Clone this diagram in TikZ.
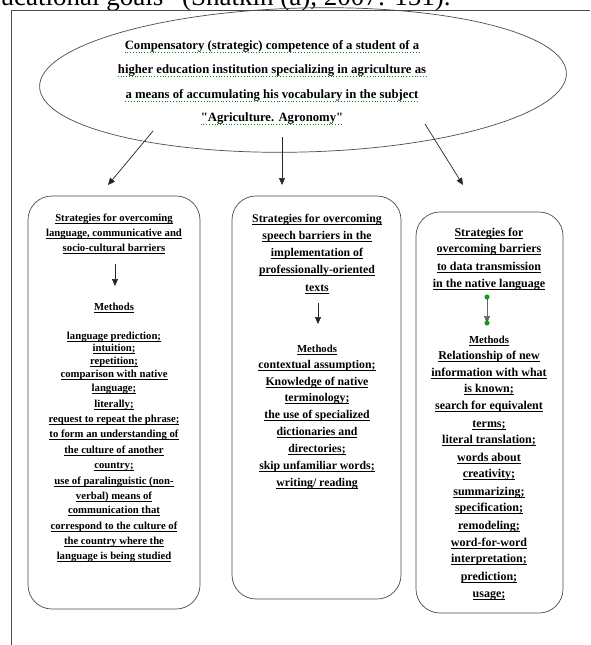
\documentclass[tikz,border=0pt]{standalone}
\usepackage{fontspec}
\setmainfont{Liberation Serif}
\usetikzlibrary{shapes.geometric,arrows.meta}
\newcommand\ulx[1]{\setbox0\hbox{#1}\rlap{\vrule height -1.7pt depth 2.4pt width \wd0}\box0}
\tikzset{
  frameline/.style={draw=black!70, line width=0.8pt},
  boxshape/.style={draw=black!70, line width=0.7pt, rounded corners=24pt, inner sep=0pt},
  ovalshape/.style={draw=black!70, line width=0.7pt, ellipse, inner sep=0pt},
  arr/.style={draw=black!85, line width=0.7pt, -{Triangle[length=7pt,width=6pt]}},
  etxt/.style={anchor=base, inner sep=0pt, font=\bfseries\fontsize{12.7}{14}\selectfont},
  ltxt/.style={anchor=base, inner sep=0pt, font=\bfseries\fontsize{10.7}{12}\selectfont},
  mtxt/.style={anchor=base, inner sep=0pt, font=\bfseries\fontsize{11.8}{13}\selectfont},
  rtxt/.style={anchor=base, inner sep=0pt, font=\bfseries\fontsize{12}{13}\selectfont},
  methtxt/.style={anchor=base, inner sep=0pt, font=\bfseries\fontsize{10.7}{12}\selectfont},
  greenwave/.style={draw=green!55!black, dotted, line width=0.8pt},
  handle/.style={fill=green!70!black, draw=green!30!black, line width=0.3pt},
}
\begin{document}
\begin{tikzpicture}[x=1pt,y=-1pt]
\useasboundingbox (0,0) rectangle (590,645);
\fill[white] (0,0) rectangle (590,645);

% cut-off text line at the top
\node[anchor=base west, inner sep=0pt, font=\fontsize{27}{30}\selectfont] (cap) at (-25,5.5) {educational goals” (Shatkin (a), 2007: 151).};

% frame
\draw[frameline] (11,645) -- (11,10.5) -- (590,10.5);

% oval
\node[ovalshape, minimum width=527pt, minimum height=144pt, rotate=1.5] (E) at (303,80) {};
\foreach \y/\t [count=\i] in {45/{Compensatory (strategic) competence of a student of a},
  69/{higher education institution specializing in agriculture as},
  94/{a means of accumulating his vocabulary in the subject},
  117/{\textquotedbl Agriculture. Agronomy\textquotedbl}}{
  \node[etxt] (e\i) at (272,\y+4) {\t};
  \draw[greenwave] ([yshift=-3pt]e\i.base west) -- ([yshift=-3pt]e\i.base east);
}

% arrows from oval
\coordinate (E1s) at (153,131); \coordinate (E1e) at (108,185);
\coordinate (E2s) at (282,137); \coordinate (E2e) at (282,185);
\coordinate (E3s) at (425,124); \coordinate (E3e) at (463,185);
\draw[arr] (E1s) -- (E1e);
\draw[arr] (E2s) -- (E2e);
\draw[arr] (E3s) -- (E3e);

% boxes
\node[boxshape, minimum width=172pt, minimum height=413pt] (L) at (114,402.5) {};
\node[boxshape, minimum width=169pt, minimum height=403pt] (M) at (316.5,397.5) {};
\node[boxshape, minimum width=147pt, minimum height=401pt] (R) at (489.5,412.5) {};

% left box
\foreach \y/\t [count=\i] in {218/{Strategies for overcoming},233/{language, communicative and},248/{socio-cultural barriers}}
  \node[ltxt] (Lh\i) at (114,\y+3.5) {\ulx{\t}};
\coordinate (La1) at (115,264); \coordinate (La2) at (115,286);
\draw[arr] (La1) -- (La2);
\node[methtxt] (Lm) at (114,307+3.5) {\ulx{Methods}};
\foreach \y/\t [count=\i] in {336/{language prediction;},348/{intuition;},361/{repetition;},
  374/{comparison with native},388/{language;},404/{literally;},419/{request to repeat the phrase;},
  434/{to form an understanding of},450/{the culture of another},465/{country;},
  481/{use of paralinguistic (non-},496/{verbal) means of},510/{communication that},
  526/{correspond to the culture of},541/{the country where the},556/{language is being studied}}
  \node[ltxt] (Ll\i) at (114,\y+3.5) {\ulx{\t}};

% middle box
\foreach \y/\t [count=\i] in {218/{Strategies for overcoming},235/{speech barriers in the},252/{implementation of},269/{professionally-oriented},287/{texts}}
  \node[mtxt] (Mh\i) at (317,\y+4) {\ulx{\t}};
\coordinate (Ma1) at (318,303); \coordinate (Ma2) at (318,324);
\draw[arr] (Ma1) -- (Ma2);
\node[methtxt] (Mm) at (317,349+3.5) {\ulx{Methods}};
\foreach \y/\t [count=\i] in {364/{contextual assumption;},381/{Knowledge of native},397/{terminology;},
  414/{the use of specialized},431/{dictionaries and},448/{directories;},465/{skip unfamiliar words;},482/{writing/ reading}}
  \node[mtxt] (Ml\i) at (317,\y+4) {\ulx{\t}};

% right box
\foreach \y/\t [count=\i] in {232/{Strategies for},248/{overcoming barriers},266/{to data transmission},283/{in the native language}}
  \node[rtxt] (Rh\i) at (489,\y+4) {\ulx{\t}};
\coordinate (Ra1) at (487,297); \coordinate (Ra2) at (487,323);
\draw[arr, draw=black!60] (Ra1) -- (Ra2);
\filldraw[handle] (Ra1) circle (2.2pt);
\filldraw[handle] (Ra2) circle (2.2pt);
\node[methtxt] (Rm) at (489,340+3.5) {\ulx{Methods}};
\foreach \y/\t [count=\i] in {355/{Relationship of new},372/{information with what},388/{is known;},
  405/{search for equivalent},423/{terms;},439/{literal translation;},457/{words about},473/{creativity;},
  491/{summarizing;},507/{specification;},525/{remodeling;},542/{word-for-word},558/{interpretation;},
  576/{prediction;},593/{usage;}}
  \node[rtxt] (Rl\i) at (489,\y+4) {\ulx{\t}};
\end{tikzpicture}
\end{document}
